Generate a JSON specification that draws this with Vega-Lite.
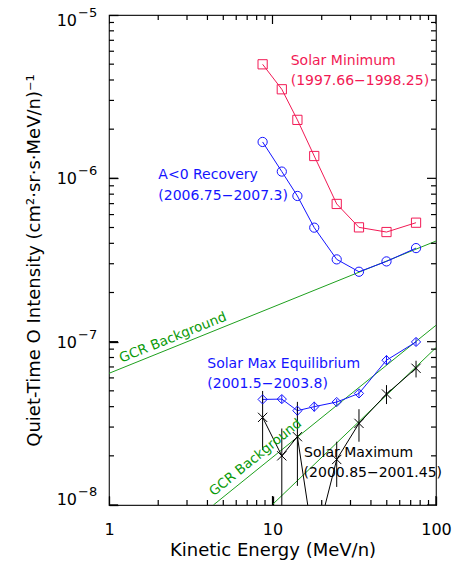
{
  "$schema": "https://vega.github.io/schema/vega-lite/v6.json",
  "width": 327,
  "height": 490,
  "autosize": {"type": "none"},
  "padding": {"left": 109, "top": 15, "right": 17, "bottom": 57},
  "background": "white",
  "config": {
    "view": {"stroke": "#222", "strokeWidth": 1.2},
    "font": "DejaVu Sans",
    "text": {"font": "DejaVu Sans"}
  },
  "datasets": {
    "pts": [
      {"series": "min", "E": 8.7, "I": 4.99e-6},
      {"series": "min", "E": 11.4, "I": 3.51e-6},
      {"series": "min", "E": 14.2, "I": 2.28e-6},
      {"series": "min", "E": 18.0, "I": 1.37e-6},
      {"series": "min", "E": 24.7, "I": 6.97e-7},
      {"series": "min", "E": 33.8, "I": 5.01e-7},
      {"series": "min", "E": 49.8, "I": 4.69e-7},
      {"series": "min", "E": 75.5, "I": 5.35e-7},
      {"series": "rec", "E": 8.7, "I": 1.67e-6},
      {"series": "rec", "E": 11.4, "I": 1.10e-6},
      {"series": "rec", "E": 14.2, "I": 7.8e-7},
      {"series": "rec", "E": 18.0, "I": 4.99e-7},
      {"series": "rec", "E": 24.7, "I": 3.19e-7},
      {"series": "rec", "E": 33.8, "I": 2.68e-7},
      {"series": "rec", "E": 49.8, "I": 3.10e-7},
      {"series": "rec", "E": 75.5, "I": 3.74e-7},
      {"series": "eq", "E": 8.7, "I": 4.43e-8, "lo": 4.23e-8, "hi": 4.64e-8},
      {"series": "eq", "E": 11.4, "I": 4.45e-8, "lo": 4.20e-8, "hi": 4.71e-8},
      {"series": "eq", "E": 14.2, "I": 3.78e-8, "lo": 3.53e-8, "hi": 4.05e-8},
      {"series": "eq", "E": 18.0, "I": 4.0e-8, "lo": 3.73e-8, "hi": 4.29e-8},
      {"series": "eq", "E": 24.7, "I": 4.27e-8, "lo": 4.10e-8, "hi": 4.45e-8},
      {"series": "eq", "E": 33.8, "I": 4.82e-8, "lo": 4.60e-8, "hi": 5.05e-8},
      {"series": "eq", "E": 49.8, "I": 7.7e-8, "lo": 7.19e-8, "hi": 8.25e-8},
      {"series": "eq", "E": 75.5, "I": 9.96e-8, "lo": 9.42e-8, "hi": 1.053e-7},
      {"series": "max", "E": 8.7, "I": 3.44e-8, "lo": 2.17e-8, "hi": 4.99e-8},
      {"series": "max", "E": 11.4, "I": 2.0e-8, "lo": 6e-9, "hi": 2.94e-8},
      {"series": "max", "E": 14.2, "I": 2.62e-8, "lo": 1.31e-8, "hi": 4.28e-8},
      {"series": "max", "E": 18.0, "I": 5.45e-9, "lo": 3e-9, "hi": 9e-9},
      {"series": "max", "E": 24.7, "I": 1.9e-8, "lo": 1.29e-8, "hi": 2.44e-8},
      {"series": "max", "E": 33.8, "I": 3.16e-8, "lo": 2.44e-8, "hi": 3.86e-8},
      {"series": "max", "E": 49.8, "I": 4.78e-8, "lo": 4.15e-8, "hi": 5.42e-8},
      {"series": "max", "E": 75.5, "I": 6.87e-8, "lo": 6.04e-8, "hi": 7.64e-8}
    ],
    "gcr": [
      {"g": "a", "E": 1, "I": 6.4e-8},
      {"g": "a", "E": 100, "I": 4.13e-7},
      {"g": "b", "E": 4.35, "I": 1e-8},
      {"g": "b", "E": 100, "I": 1.26e-7},
      {"g": "c", "E": 9.93, "I": 1e-8},
      {"g": "c", "E": 100, "I": 9.19e-8}
    ],
    "notes": [
      {"label": "Solar Minimum", "E": 12.92, "I": 5.23e-6, "series": "min"},
      {"label": "(1997.66−1998.25)", "E": 12.92, "I": 3.94e-6, "series": "min"},
      {"label": "A<0 Recovery", "E": 2.003, "I": 1.047e-6, "series": "rec"},
      {"label": "(2006.75−2007.3)", "E": 2.003, "I": 7.8e-7, "series": "rec"},
      {"label": "Solar Max Equilibrium", "E": 3.99, "I": 7.3e-8, "series": "eq"},
      {"label": "(2001.5−2003.8)", "E": 3.99, "I": 5.49e-8, "series": "eq"},
      {"label": "Solar Maximum", "E": 15.6, "I": 2.07e-8, "series": "max"},
      {"label": "(2000.85−2001.45)", "E": 15.5, "I": 1.57e-8, "series": "max"}
    ],
    "gcrlab": [
      {"which": "upper", "label": "GCR Background", "E": 2.58, "I": 9.4e-8},
      {"which": "lower", "label": "GCR Background", "E": 8.6, "I": 1.75e-8}
    ],
    "ylab": [
      {"I": 1e-5, "sup": "−5", "pos": "top"},
      {"I": 1e-6, "sup": "−6", "pos": "mid"},
      {"I": 1e-7, "sup": "−7", "pos": "mid"},
      {"I": 1e-8, "sup": "−8", "pos": "bot"}
    ],
    "xticks": [
      {"v": 1, "k": "major"}, {"v": 10, "k": "major"}, {"v": 100, "k": "major"},
      {"v": 2, "k": "minor"}, {"v": 3, "k": "minor"}, {"v": 4, "k": "minor"}, {"v": 5, "k": "minor"},
      {"v": 6, "k": "minor"}, {"v": 7, "k": "minor"}, {"v": 8, "k": "minor"}, {"v": 9, "k": "minor"},
      {"v": 20, "k": "minor"}, {"v": 30, "k": "minor"}, {"v": 40, "k": "minor"}, {"v": 50, "k": "minor"},
      {"v": 60, "k": "minor"}, {"v": 70, "k": "minor"}, {"v": 80, "k": "minor"}, {"v": 90, "k": "minor"}
    ],
    "yticks": [
      {"v": 1e-8, "k": "major"}, {"v": 1e-7, "k": "major"}, {"v": 1e-6, "k": "major"}, {"v": 1e-5, "k": "major"},
      {"v": 2e-8, "k": "minor"}, {"v": 3e-8, "k": "minor"}, {"v": 4e-8, "k": "minor"}, {"v": 5e-8, "k": "minor"},
      {"v": 6e-8, "k": "minor"}, {"v": 7e-8, "k": "minor"}, {"v": 8e-8, "k": "minor"}, {"v": 9e-8, "k": "minor"},
      {"v": 2e-7, "k": "minor"}, {"v": 3e-7, "k": "minor"}, {"v": 4e-7, "k": "minor"}, {"v": 5e-7, "k": "minor"},
      {"v": 6e-7, "k": "minor"}, {"v": 7e-7, "k": "minor"}, {"v": 8e-7, "k": "minor"}, {"v": 9e-7, "k": "minor"},
      {"v": 2e-6, "k": "minor"}, {"v": 3e-6, "k": "minor"}, {"v": 4e-6, "k": "minor"}, {"v": 5e-6, "k": "minor"},
      {"v": 6e-6, "k": "minor"}, {"v": 7e-6, "k": "minor"}, {"v": 8e-6, "k": "minor"}, {"v": 9e-6, "k": "minor"}
    ]
  },
  "layer": [
    {
      "data": {"name": "gcr"},
      "mark": {"type": "line", "clip": true, "strokeWidth": 1, "color": "#1ea01e"},
      "encoding": {
        "x": {"field": "E", "type": "quantitative", "scale": {"type": "log", "domain": [1, 100], "nice": false},
          "axis": {"orient": "bottom", "values": [1, 10, 100], "offset": -9, "tickSize": 9, "tickColor": "#000", "tickWidth": 1.3, "domain": false, "grid": false,
            "format": "~g", "labelFlush": false, "labelOverlap": false, "labelFont": "DejaVu Sans", "labelFontSize": 16, "labelColor": "#000", "labelPadding": 16,
            "title": "Kinetic Energy (MeV/n)", "titleFont": "DejaVu Sans", "titleFontSize": 18, "titleFontWeight": "normal", "titleColor": "#000", "titlePadding": 4}},
        "y": {"field": "I", "type": "quantitative", "scale": {"type": "log", "domain": [1e-8, 1e-5], "nice": false},
          "axis": {"orient": "left", "values": [1e-8, 1e-7, 1e-6, 1e-5], "offset": -9, "tickSize": 9, "tickColor": "#000", "tickWidth": 1.3, "domain": false, "grid": false, "labels": false,
            "title": "Quiet-Time O Intensity (cm²·sr·s·MeV/n)⁻¹", "titleFont": "DejaVu Sans", "titleFontSize": 18, "titleFontWeight": "normal", "titleColor": "#000", "titlePadding": 65}},
        "detail": {"field": "g"}
      }
    },
    {
      "data": {"name": "xticks"},
      "transform": [{"filter": "datum.k == 'major'"}],
      "mark": {"type": "tick", "orient": "vertical", "clip": true, "size": 18, "thickness": 1.2, "color": "#000", "opacity": 1},
      "encoding": {
        "x": {"field": "v", "type": "quantitative", "scale": {"type": "log", "domain": [1, 100], "nice": false}, "axis": null},
        "y": {"datum": 1e-8, "type": "quantitative", "scale": {"type": "log", "domain": [1e-8, 1e-5], "nice": false}, "axis": null}
      }
    },
    {
      "data": {"name": "xticks"},
      "transform": [{"filter": "datum.k == 'major'"}],
      "mark": {"type": "tick", "orient": "vertical", "clip": true, "size": 18, "thickness": 1.2, "color": "#000", "opacity": 1},
      "encoding": {
        "x": {"field": "v", "type": "quantitative", "scale": {"type": "log", "domain": [1, 100], "nice": false}, "axis": null},
        "y": {"datum": 1e-5, "type": "quantitative", "scale": {"type": "log", "domain": [1e-8, 1e-5], "nice": false}, "axis": null}
      }
    },
    {
      "data": {"name": "xticks"},
      "transform": [{"filter": "datum.k == 'minor'"}],
      "mark": {"type": "tick", "orient": "vertical", "clip": true, "size": 10, "thickness": 1.2, "color": "#000", "opacity": 1},
      "encoding": {
        "x": {"field": "v", "type": "quantitative", "scale": {"type": "log", "domain": [1, 100], "nice": false}, "axis": null},
        "y": {"datum": 1e-8, "type": "quantitative", "scale": {"type": "log", "domain": [1e-8, 1e-5], "nice": false}, "axis": null}
      }
    },
    {
      "data": {"name": "xticks"},
      "transform": [{"filter": "datum.k == 'minor'"}],
      "mark": {"type": "tick", "orient": "vertical", "clip": true, "size": 10, "thickness": 1.2, "color": "#000", "opacity": 1},
      "encoding": {
        "x": {"field": "v", "type": "quantitative", "scale": {"type": "log", "domain": [1, 100], "nice": false}, "axis": null},
        "y": {"datum": 1e-5, "type": "quantitative", "scale": {"type": "log", "domain": [1e-8, 1e-5], "nice": false}, "axis": null}
      }
    },
    {
      "data": {"name": "yticks"},
      "transform": [{"filter": "datum.k == 'major'"}],
      "mark": {"type": "tick", "orient": "horizontal", "clip": true, "size": 18, "thickness": 1.2, "color": "#000", "opacity": 1},
      "encoding": {
        "x": {"datum": 1, "type": "quantitative", "scale": {"type": "log", "domain": [1, 100], "nice": false}, "axis": null},
        "y": {"field": "v", "type": "quantitative", "scale": {"type": "log", "domain": [1e-8, 1e-5], "nice": false}, "axis": null}
      }
    },
    {
      "data": {"name": "yticks"},
      "transform": [{"filter": "datum.k == 'major'"}],
      "mark": {"type": "tick", "orient": "horizontal", "clip": true, "size": 18, "thickness": 1.2, "color": "#000", "opacity": 1},
      "encoding": {
        "x": {"datum": 100, "type": "quantitative", "scale": {"type": "log", "domain": [1, 100], "nice": false}, "axis": null},
        "y": {"field": "v", "type": "quantitative", "scale": {"type": "log", "domain": [1e-8, 1e-5], "nice": false}, "axis": null}
      }
    },
    {
      "data": {"name": "yticks"},
      "transform": [{"filter": "datum.k == 'minor'"}],
      "mark": {"type": "tick", "orient": "horizontal", "clip": true, "size": 10, "thickness": 1.2, "color": "#000", "opacity": 1},
      "encoding": {
        "x": {"datum": 1, "type": "quantitative", "scale": {"type": "log", "domain": [1, 100], "nice": false}, "axis": null},
        "y": {"field": "v", "type": "quantitative", "scale": {"type": "log", "domain": [1e-8, 1e-5], "nice": false}, "axis": null}
      }
    },
    {
      "data": {"name": "yticks"},
      "transform": [{"filter": "datum.k == 'minor'"}],
      "mark": {"type": "tick", "orient": "horizontal", "clip": true, "size": 10, "thickness": 1.2, "color": "#000", "opacity": 1},
      "encoding": {
        "x": {"datum": 100, "type": "quantitative", "scale": {"type": "log", "domain": [1, 100], "nice": false}, "axis": null},
        "y": {"field": "v", "type": "quantitative", "scale": {"type": "log", "domain": [1e-8, 1e-5], "nice": false}, "axis": null}
      }
    },
    {
      "data": {"name": "pts"},
      "mark": {"type": "line", "clip": true, "strokeWidth": 1},
      "encoding": {
        "x": {"field": "E", "type": "quantitative", "scale": {"type": "log", "domain": [1, 100], "nice": false}, "axis": null},
        "y": {"field": "I", "type": "quantitative", "scale": {"type": "log", "domain": [1e-8, 1e-5], "nice": false}, "axis": null},
        "color": {"field": "series", "type": "nominal", "scale": {"domain": ["min", "rec", "eq", "max"], "range": ["#f21a55", "#1414ff", "#1414ff", "#000000"]}, "legend": null}
      }
    },
    {
      "data": {"name": "pts"},
      "transform": [{"filter": "isValid(datum.lo)"}],
      "mark": {"type": "rule", "clip": true, "strokeWidth": 1},
      "encoding": {
        "x": {"field": "E", "type": "quantitative", "scale": {"type": "log", "domain": [1, 100], "nice": false}, "axis": null},
        "y": {"field": "lo", "type": "quantitative", "scale": {"type": "log", "domain": [1e-8, 1e-5], "nice": false}, "axis": null},
        "y2": {"field": "hi"},
        "color": {"field": "series", "type": "nominal", "scale": {"domain": ["min", "rec", "eq", "max"], "range": ["#f21a55", "#1414ff", "#1414ff", "#000000"]}, "legend": null}
      }
    },
    {
      "data": {"name": "pts"},
      "mark": {"type": "point", "clip": true, "filled": false, "strokeWidth": 1, "size": 85, "opacity": 1},
      "encoding": {
        "x": {"field": "E", "type": "quantitative", "scale": {"type": "log", "domain": [1, 100], "nice": false}, "axis": null},
        "y": {"field": "I", "type": "quantitative", "scale": {"type": "log", "domain": [1e-8, 1e-5], "nice": false}, "axis": null},
        "color": {"field": "series", "type": "nominal", "scale": {"domain": ["min", "rec", "eq", "max"], "range": ["#f21a55", "#1414ff", "#1414ff", "#000000"]}, "legend": null},
        "shape": {"field": "series", "type": "nominal", "scale": {"domain": ["min", "rec", "eq", "max"], "range": ["square", "circle", "diamond", "M-1,-1L1,1M-1,1L1,-1"]}, "legend": null}
      }
    },
    {
      "data": {"name": "notes"},
      "mark": {"type": "text", "align": "left", "baseline": "middle", "fontSize": 14, "font": "DejaVu Sans"},
      "encoding": {
        "x": {"field": "E", "type": "quantitative", "scale": {"type": "log", "domain": [1, 100], "nice": false}, "axis": null},
        "y": {"field": "I", "type": "quantitative", "scale": {"type": "log", "domain": [1e-8, 1e-5], "nice": false}, "axis": null},
        "text": {"field": "label"},
        "color": {"field": "series", "type": "nominal", "scale": {"domain": ["min", "rec", "eq", "max"], "range": ["#f21a55", "#1414ff", "#1414ff", "#000000"]}, "legend": null}
      }
    },
    {
      "data": {"name": "gcrlab"},
      "transform": [{"filter": "datum.which == 'upper'"}],
      "mark": {"type": "text", "align": "center", "baseline": "middle", "fontSize": 13.5, "font": "DejaVu Sans", "angle": -22, "dy": -9, "color": "#0a9a0a"},
      "encoding": {
        "x": {"field": "E", "type": "quantitative", "scale": {"type": "log", "domain": [1, 100], "nice": false}, "axis": null},
        "y": {"field": "I", "type": "quantitative", "scale": {"type": "log", "domain": [1e-8, 1e-5], "nice": false}, "axis": null},
        "text": {"field": "label"}
      }
    },
    {
      "data": {"name": "gcrlab"},
      "transform": [{"filter": "datum.which == 'lower'"}],
      "mark": {"type": "text", "align": "center", "baseline": "middle", "fontSize": 13.5, "font": "DejaVu Sans", "angle": -39, "dy": -10, "color": "#0a9a0a"},
      "encoding": {
        "x": {"field": "E", "type": "quantitative", "scale": {"type": "log", "domain": [1, 100], "nice": false}, "axis": null},
        "y": {"field": "I", "type": "quantitative", "scale": {"type": "log", "domain": [1e-8, 1e-5], "nice": false}, "axis": null},
        "text": {"field": "label"}
      }
    },
    {
      "data": {"name": "ylab"},
      "transform": [{"filter": "datum.pos == 'mid'"}],
      "mark": {"type": "text", "align": "right", "baseline": "middle", "fontSize": 16, "font": "DejaVu Sans", "dx": -32, "dy": 1, "color": "#000"},
      "encoding": {
        "x": {"datum": 1, "type": "quantitative", "scale": {"type": "log", "domain": [1, 100], "nice": false}, "axis": null},
        "y": {"field": "I", "type": "quantitative", "scale": {"type": "log", "domain": [1e-8, 1e-5], "nice": false}, "axis": null},
        "text": {"value": "10"}
      }
    },
    {
      "data": {"name": "ylab"},
      "transform": [{"filter": "datum.pos == 'top'"}],
      "mark": {"type": "text", "align": "right", "baseline": "middle", "fontSize": 16, "font": "DejaVu Sans", "dx": -32, "dy": 6, "color": "#000"},
      "encoding": {
        "x": {"datum": 1, "type": "quantitative", "scale": {"type": "log", "domain": [1, 100], "nice": false}, "axis": null},
        "y": {"field": "I", "type": "quantitative", "scale": {"type": "log", "domain": [1e-8, 1e-5], "nice": false}, "axis": null},
        "text": {"value": "10"}
      }
    },
    {
      "data": {"name": "ylab"},
      "transform": [{"filter": "datum.pos == 'bot'"}],
      "mark": {"type": "text", "align": "right", "baseline": "middle", "fontSize": 16, "font": "DejaVu Sans", "dx": -32, "dy": -5, "color": "#000"},
      "encoding": {
        "x": {"datum": 1, "type": "quantitative", "scale": {"type": "log", "domain": [1, 100], "nice": false}, "axis": null},
        "y": {"field": "I", "type": "quantitative", "scale": {"type": "log", "domain": [1e-8, 1e-5], "nice": false}, "axis": null},
        "text": {"value": "10"}
      }
    },
    {
      "data": {"name": "ylab"},
      "transform": [{"filter": "datum.pos == 'mid'"}],
      "mark": {"type": "text", "align": "left", "baseline": "middle", "fontSize": 13, "font": "DejaVu Sans", "dx": -31, "dy": -7, "color": "#000"},
      "encoding": {
        "x": {"datum": 1, "type": "quantitative", "scale": {"type": "log", "domain": [1, 100], "nice": false}, "axis": null},
        "y": {"field": "I", "type": "quantitative", "scale": {"type": "log", "domain": [1e-8, 1e-5], "nice": false}, "axis": null},
        "text": {"field": "sup"}
      }
    },
    {
      "data": {"name": "ylab"},
      "transform": [{"filter": "datum.pos == 'top'"}],
      "mark": {"type": "text", "align": "left", "baseline": "middle", "fontSize": 13, "font": "DejaVu Sans", "dx": -31, "dy": -2, "color": "#000"},
      "encoding": {
        "x": {"datum": 1, "type": "quantitative", "scale": {"type": "log", "domain": [1, 100], "nice": false}, "axis": null},
        "y": {"field": "I", "type": "quantitative", "scale": {"type": "log", "domain": [1e-8, 1e-5], "nice": false}, "axis": null},
        "text": {"field": "sup"}
      }
    },
    {
      "data": {"name": "ylab"},
      "transform": [{"filter": "datum.pos == 'bot'"}],
      "mark": {"type": "text", "align": "left", "baseline": "middle", "fontSize": 13, "font": "DejaVu Sans", "dx": -31, "dy": -13, "color": "#000"},
      "encoding": {
        "x": {"datum": 1, "type": "quantitative", "scale": {"type": "log", "domain": [1, 100], "nice": false}, "axis": null},
        "y": {"field": "I", "type": "quantitative", "scale": {"type": "log", "domain": [1e-8, 1e-5], "nice": false}, "axis": null},
        "text": {"field": "sup"}
      }
    }
  ],
  "resolve": {"axis": {"x": "independent", "y": "independent"}}
}
